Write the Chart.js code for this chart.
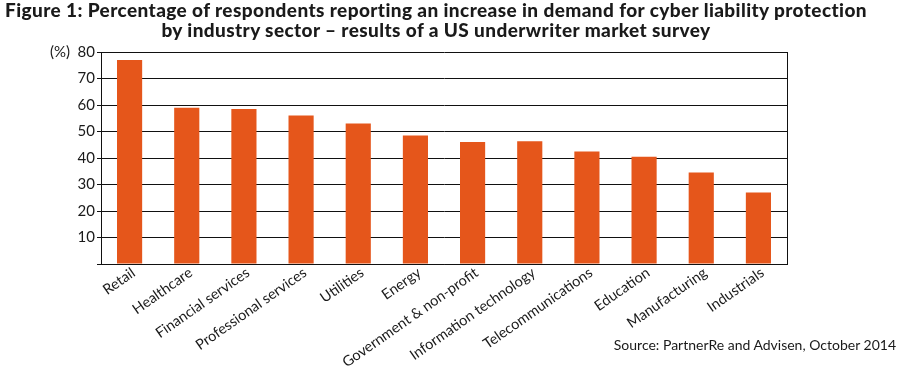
<!DOCTYPE html>
<html>
<head>
<meta charset="utf-8">
<script src="https://cdn.jsdelivr.net/npm/chart.js@4.4.1/dist/chart.umd.min.js"></script>
<style>
  html, body { margin: 0; padding: 0; background: #fff; }
  #wrap { position: relative; width: 902px; height: 374px; overflow: hidden; }
  #title { position: absolute; left: 0; width: 872px; top: 0px; text-align: center;
    font-family: Lato, "Open Sans", sans-serif; font-weight: 900; font-size: 19px; letter-spacing: 0.4px; line-height: 20px; color: #1a1a1a; }
  #source { position: absolute; right: 6px; top: 336px;
    font-family: Lato, "Open Sans", sans-serif; font-size: 14px; color: #1a1a1a; }
  canvas { position: absolute; left: 0; top: 0; }
</style>
</head>
<body>
<div id="wrap">
  <canvas id="c" width="902" height="374"></canvas>
  <div id="title">Figure 1: Percentage of respondents reporting an increase in demand for cyber liability protection<br>by industry sector – results of a US underwriter market survey</div>
  <div id="source">Source: PartnerRe and Advisen, October 2014</div>
</div>
<script>
const categories = ["Retail", "Healthcare", "Financial services", "Professional services", "Utilities", "Energy",
  "Government & non-profit", "Information technology", "Telecommunications", "Education", "Manufacturing", "Industrials"];
const values = [77, 59, 58.5, 56, 53, 48.5, 46, 46.3, 42.5, 40.5, 34.5, 27];
const yTicks = [0, 10, 20, 30, 40, 50, 60, 70, 80];
const yUnit = "(%)";

const frame = {
  id: 'frame',
  afterDraw(chart) {
    const a = chart.chartArea, ctx = chart.ctx;
    ctx.save();
    ctx.strokeStyle = '#111';
    ctx.lineWidth = 1;
    ctx.beginPath();
    ctx.moveTo(Math.round(a.right) + 0.5, a.top);
    ctx.lineTo(Math.round(a.right) + 0.5, a.bottom);
    ctx.stroke();
    ctx.restore();
  }
};

new Chart(document.getElementById('c'), {
  type: 'bar',
  data: {
    labels: categories,
    datasets: [{ data: values, backgroundColor: '#E5561B', borderWidth: 0,
      categoryPercentage: 1.0, barPercentage: 0.44 }]
  },
  options: {
    responsive: false,
    animation: false,
    layout: { padding: { top: 52, right: 115, left: 0, bottom: 0 } },
    plugins: { legend: { display: false }, tooltip: { enabled: false } },
    scales: {
      x: {
        grid: { display: false },
        border: { display: true, color: '#111', width: 1 },
        ticks: { color: '#1a1a1a', font: { family: 'Lato', size: 14.5 }, minRotation: 35, maxRotation: 35,
          padding: -8, labelOffset: 4 },
        afterFit(s) { s.height = 110; }
      },
      y: {
        min: 0, max: 80,
        afterBuildTicks(s) { s.ticks = yTicks.map(v => ({ value: v })); },
        grid: { color: '#111', lineWidth: 1, tickLength: 4 },
        border: { display: true, color: '#111', width: 1 },
        ticks: {
          color: '#1a1a1a', font: { family: 'Lato', size: 15 }, padding: 2,
          callback: v => v === 0 ? '' : (v === 80 ? yUnit + '  ' + v : String(v))
        },
        afterFit(s) { s.width = 101; }
      }
    }
  },
  plugins: [frame]
});
</script>
</body>
</html>
